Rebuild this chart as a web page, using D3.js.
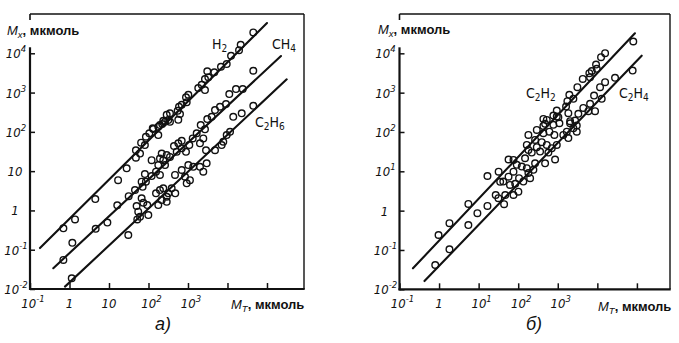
<!DOCTYPE html>
<html>
<head>
<meta charset="utf-8">
<script src="https://cdn.jsdelivr.net/npm/d3@7"></script>
<style>
  html, body { margin: 0; padding: 0; background: #fff; }
  svg { display: block; }
</style>
</head>
<body>
<svg id="chart" width="679" height="343"></svg>
<script>
// ---- Panel а): hydrogen, methane, ethane vs. M_T (µmol) ----
const h2Points = [
  [0.70,0.35],[1.38,0.59],[4.5,1.95],[17,5.9],[28,11.8],[48,22],[48,34],[61,28],[65,53],
  [81,46],[86,75],[105,92],[128,123],[132,118],[177,83],[195,149],[262,181],[177,135],
  [223,158],[237,191],[289,272],[317,200],[350,296],[350,180],[568,203],[548,344],[627,284],
  [592,435],[693,490],[927,564],[890,755],[1020,880],[1820,1300],[2220,1580],[2690,1160],
  [2690,2210],[3270,2440],[3080,3470],[4640,3270],[6840,4540],[9550,5310],[12300,8630],
  [19600,12000],[21600,16400],[45000,34000]
];
const ch4Points = [
  [0.70,0.055],[1.18,0.15],[4.6,0.34],[9.1,0.49],[16.2,1.35],[31.5,2.3],[45.5,3.3],[67,5.4],
  [86,5.4],[81,8.4],[71,4.0],[120,7.5],[120,19],[155,9.7],[177,14.3],[195,21],[195,8.0],
  [216,28],[237,19],[262,14.3],[289,25.7],[350,23],[442,43.5],[518,31],[568,51],[693,38],
  [693,59],[890,31],[1080,46],[1315,68],[1660,92],[2100,149],[2010,51],[2440,68],[2690,116],
  [3080,212],[3980,242],[4830,359],[6460,435],[9170,510],[11100,916],[16400,1230],
  [24300,1230],[45000,3590]
];
const c2h6Points = [
  [1.14,0.0187],[30.8,0.237],[52,0.59],[55,0.93],[50,1.29],[67,2.03],[74,1.57],[93,1.37],
  [99,0.76],[61,0.69],[155,2.72],[195,3.3],[237,3.65],[289,2.23],[317,2.72],[386,3.65],
  [476,2.72],[289,1.66],[216,1.84],[177,1.37],[469,8.0],[840,7.2],[1120,5.9],[927,4.9],
  [693,10.7],[1020,14.3],[1360,12.9],[2010,12.9],[2970,15.8],[2440,9.7],[2860,34],[4830,34],
  [7120,46],[7830,56],[9550,83],[11600,100],[14000,242],[22900,296],[45000,461]
];
// regression lines: [start, end] in data units
const h2Fit   = [[0.179,0.110],[100000,58900]];
const ch4Fit  = [[0.389,0.0339],[226000,8510]];
const c2h6Fit = [[0.769,0.0115],[316000,2170]];

// ---- Panel б): acetylene, ethylene vs. M_T (µmol) ----
const c2h2Points = [
  [0.97,0.24],[1.83,0.48],[5.5,1.48],[16.7,7.6],[32,9.8],[35,5.4],[42,5.5],[57,7.3],[76,9.8],
  [92,14.6],[57,20],[76,19.5],[123,13.2],[149,21.5],[181,35],[220,30],[165,47],[181,84],
  [267,63],[295,41],[394,55],[433,93],[614,102],[433,143],[527,203],[295,113],[774,152],
  [944,247],[1100,167],[1850,300],[433,215],[478,161],[774,261],[944,351],[1035,238],
  [1620,443],[1750,608],[2480,695],[1960,880],[3130,1380],[4280,2240],[6280,3130],
  [7230,3530],[9660,4030],[9270,5190],[12400,8000],[15700,10100],[81000,20000]
];
const c2h4Points = [
  [0.80,0.0415],[1.83,0.104],[5.5,0.43],[9.3,0.86],[16.7,1.32],[27,2.5],[31.6,2.07],[44,1.46],
  [47,2.5],[76,2.5],[101,3.04],[62,4.5],[84,4.8],[105,6.7],[135,5.5],[181,9],[165,12],
  [200,6.7],[242,10.9],[267,16],[357,31.7],[478,16],[527,47],[579,30],[705,38.7],[855,20],
  [944,47],[820,84],[1380,84],[1690,102],[1850,70],[2050,167],[2480,125],[3020,102],
  [2050,188],[2740,195],[3020,146],[3310,289],[4420,410],[5930,338],[8750,338],[6550,519],
  [8260,843],[12900,695],[11700,1380],[15700,1850],[28000,2380],[6550,2480],[78000,3650]
];
const c2h2Fit = [[0.219,0.0342],[89100,32400]];
const c2h4Fit = [[0.428,0.0162],[132000,8710]];

// ---- axis ticks and labels ([mantissa, exponent]) ----
const xTickValues = [0.1, 1, 10, 100, 1000, 1e4, 1e5];
const yTickValues = [0.01, 0.1, 1, 10, 100, 1000, 1e4];
const xTickLabelsA = [["10","-1"],["1",""],["10",""],["10","2"],["10","3"],null,null];
const yTickLabelsA = [["10","-2"],["10","-1"],["1",""],["10",""],["10","2"],["10","3"],["10","4"]];
const xTickLabelsB = [["10","-1"],["1",""],["10","1"],["10","2"],["10","3"],null,null];
const yTickLabelsB = [["10","-2"],["10","-1"],["1",""],["10","1"],["10","2"],["10","3"],["10","4"]];

const svg = d3.select("#chart");
const INK = "#111";
const tickFont = "'Liberation Sans Narrow','DejaVu Sans Condensed','Liberation Sans',sans-serif";
const unitFont = "'Liberation Sans','DejaVu Sans',sans-serif";
const chemFont = "'Liberation Sans Narrow','DejaVu Sans Condensed','Liberation Sans',sans-serif";

function powText(sel, pair) {
  sel.append("tspan").text(pair[0]);
  if (pair[1]) sel.append("tspan").attr("dy", -6).attr("font-size", 9.5).text(pair[1]);
}

function chemText(sel, parts) {
  // parts: array of [text, isSubscript]
  parts.forEach(([t, sub], i) => {
    const prevSub = i > 0 && parts[i - 1][1];
    const ts = sel.append("tspan").text(t);
    if (sub && !prevSub) ts.attr("dy", 3).attr("font-size", 10);
    else if (!sub && prevSub) ts.attr("dy", -3);
    if (sub && prevSub) ts.attr("font-size", 10);
  });
}

function axisTitle(g, x, y, sub) {
  const t = g.append("text").attr("x", x).attr("y", y).attr("fill", INK)
    .attr("font-family", unitFont).attr("font-size", 13);
  t.append("tspan").attr("font-style", "italic").text("M");
  t.append("tspan").attr("font-style", "italic").attr("font-size", 9.5).attr("dy", 3).text(sub);
  t.append("tspan").attr("font-weight", "bold").attr("dy", -3).text(", мкмоль");
}

function drawPanel(p) {
  const g = svg.append("g");
  const x = d3.scaleLog().domain(p.xDomain).range([p.left, p.right]);
  const y = d3.scaleLog().domain([0.01, 1e5]).range([p.bottom, p.top]);

  // frame
  g.append("line").attr("x1", p.left).attr("x2", p.right).attr("y1", p.top).attr("y2", p.top)
    .attr("stroke", INK).attr("stroke-width", 1.4);
  g.append("line").attr("x1", p.right).attr("x2", p.right).attr("y1", p.top).attr("y2", p.bottom)
    .attr("stroke", INK).attr("stroke-width", 1.4);
  g.append("line").attr("x1", p.left).attr("x2", p.left).attr("y1", p.top).attr("y2", p.top + 6)
    .attr("stroke", INK).attr("stroke-width", 1.6);
  g.append("line").attr("x1", p.left).attr("x2", p.left).attr("y1", y(1e4) - 6).attr("y2", p.bottom + 1)
    .attr("stroke", INK).attr("stroke-width", 2.2);
  g.append("line").attr("x1", p.left - 1).attr("x2", p.right + 0.7).attr("y1", p.bottom).attr("y2", p.bottom)
    .attr("stroke", INK).attr("stroke-width", 2.2);

  // ticks (inside)
  const xa = g.append("g").attr("transform", `translate(0,${p.bottom})`)
    .call(d3.axisBottom(x).tickValues(xTickValues).tickSizeInner(-6).tickSizeOuter(0).tickFormat(""));
  xa.select(".domain").remove();
  xa.selectAll(".tick line").attr("stroke", INK).attr("stroke-width", 1.5);
  const ya = g.append("g").attr("transform", `translate(${p.left},0)`)
    .call(d3.axisLeft(y).tickValues(yTickValues).tickSizeInner(-5).tickSizeOuter(0).tickFormat(""));
  ya.select(".domain").remove();
  ya.selectAll(".tick line").attr("stroke", INK).attr("stroke-width", 1.5);

  // tick labels
  xTickValues.forEach((v, i) => {
    const lab = p.xLabels[i];
    if (!lab) return;
    const t = g.append("text").attr("x", x(v) + (lab[1] ? 3 : 0)).attr("y", p.bottom + 19)
      .attr("text-anchor", "middle").attr("font-family", tickFont).attr("font-style", "italic")
      .attr("font-size", 13).attr("fill", INK);
    powText(t, lab);
  });
  yTickValues.forEach((v, i) => {
    const lab = p.yLabels[i];
    const t = g.append("text").attr("x", p.left - 15 + (lab[1] ? 1 : 0)).attr("y", y(v) + 5)
      .attr("text-anchor", "middle").attr("font-family", tickFont).attr("font-style", "italic")
      .attr("font-size", 13).attr("fill", INK);
    powText(t, lab);
  });

  // axis titles
  axisTitle(g, p.yTitle[0], p.yTitle[1], "x");
  axisTitle(g, p.xTitle[0], p.xTitle[1], "T");

  // panel letter
  g.append("text").attr("x", p.letter[0]).attr("y", p.letter[1]).attr("text-anchor", "middle")
    .attr("font-family", unitFont).attr("font-style", "italic").attr("font-size", 18)
    .attr("fill", INK).text(p.letter[2]);

  // series
  p.series.forEach(s => {
    g.append("line")
      .attr("x1", x(s.fit[0][0])).attr("y1", y(s.fit[0][1]))
      .attr("x2", x(s.fit[1][0])).attr("y2", y(s.fit[1][1]))
      .attr("stroke", INK).attr("stroke-width", 2.1).attr("stroke-linecap", "round");
    g.selectAll(null).data(s.points).join("circle")
      .attr("cx", d => x(d[0])).attr("cy", d => y(d[1])).attr("r", 3.3)
      .attr("fill", "none").attr("stroke", INK).attr("stroke-width", 1.4);
    const t = g.append("text").attr("x", s.labelPos[0]).attr("y", s.labelPos[1])
      .attr("font-family", chemFont).attr("font-size", 14).attr("fill", INK);
    chemText(t, s.name);
  });
}

drawPanel({
  left: 30, right: 304, top: 14, bottom: 289,
  xDomain: [0.1, 8.65e5],
  xLabels: xTickLabelsA, yLabels: yTickLabelsA,
  yTitle: [7, 35], xTitle: [231, 309], letter: [163, 330, "а)"],
  series: [
    { name: [["H", false], ["2", true]], points: h2Points, fit: h2Fit, labelPos: [212, 49] },
    { name: [["CH", false], ["4", true]], points: ch4Points, fit: ch4Fit, labelPos: [272, 49] },
    { name: [["C", false], ["2", true], ["H", false], ["6", true]], points: c2h6Points, fit: c2h6Fit, labelPos: [255, 127] }
  ]
});

drawPanel({
  left: 399.5, right: 670, top: 14, bottom: 289.3,
  xDomain: [0.1, 6.86e5],
  xLabels: xTickLabelsB, yLabels: yTickLabelsB,
  yTitle: [378, 34], xTitle: [598, 311], letter: [534, 330, "б)"],
  series: [
    { name: [["C", false], ["2", true], ["H", false], ["2", true]], points: c2h2Points, fit: c2h2Fit, labelPos: [526, 98] },
    { name: [["C", false], ["2", true], ["H", false], ["4", true]], points: c2h4Points, fit: c2h4Fit, labelPos: [619, 98] }
  ]
});
</script>
</body>
</html>
